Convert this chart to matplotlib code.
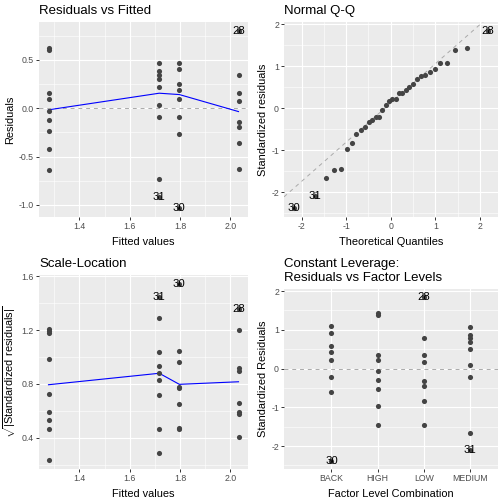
import matplotlib
matplotlib.use("Agg")
import matplotlib.pyplot as plt
from matplotlib.ticker import FixedLocator, FormatStrFormatter
import numpy as np
from statistics import NormalDist

plt.rcParams['font.family'] = ['Liberation Sans', 'DejaVu Sans']
plt.rcParams['mathtext.fontset'] = 'custom'
plt.rcParams['mathtext.rm'] = 'Liberation Sans'
plt.rcParams['axes.unicode_minus'] = False

# data (one-way lm, 4 factor levels)
levels = ["BACK", "HIGH", "LOW", "MEDIUM"]
fitted = [1.797, 1.277, 2.032, 1.717]
resid_back = [0.472, 0.403, 0.255, 0.186, 0.096, -0.093, -0.262, -1.034]
resid_high = [0.625, 0.605, 0.155, 0.096, -0.024, -0.124, -0.231, -0.424, -0.641]
resid_low = [0.800, 0.348, 0.152, 0.072, -0.145, -0.190, -0.365, -0.628]
resid_medium = [0.472, 0.380, 0.340, 0.300, 0.224, 0.036, -0.095, -0.731, -0.915]
# smoother values at each fitted level (BACK, HIGH, LOW, MEDIUM)
resid_smooth = [0.141, -0.017, -0.035, 0.155]
scale_smooth = [0.797, 0.794, 0.816, 0.879]
# row names of the three most extreme points, largest |std resid| first
top_labels = ["30", "31", "28"]

groups = [resid_back, resid_high, resid_low, resid_medium]
res = np.concatenate([np.array(g) for g in groups])
fit = np.concatenate([[f] * len(g) for f, g in zip(fitted, groups)])
lev = np.concatenate([[i + 1] * len(g) for i, g in enumerate(groups)])
hat = np.concatenate([[1.0 / len(g)] * len(g) for g in groups])
n = len(res)
sigma = np.sqrt(np.sum(res ** 2) / (n - len(groups)))
std = res / (sigma * np.sqrt(1 - hat))
top = np.argsort(-np.abs(std))[:3]

PT = '#444444'
W, H = 504, 504
fig = plt.figure(figsize=(5.04, 5.04), dpi=100)


def px_axes(x0, y0, x1, y1):
    return fig.add_axes([x0 / W, 1 - y1 / H, (x1 - x0) / W, (y1 - y0) / H])


def expand(v, m=0.05):
    lo, hi = np.min(v), np.max(v)
    d = (hi - lo) * m
    return lo - d, hi + d


def gg(ax, title, xlabel, ylabel, xmaj, xmin, ymaj, ymin, xfmt, yfmt):
    ax.set_facecolor('#EBEBEB')
    for s in ax.spines.values():
        s.set_visible(False)
    ax.set_axisbelow(True)
    if xmaj is not None:
        ax.xaxis.set_major_locator(FixedLocator(xmaj))
        ax.xaxis.set_minor_locator(FixedLocator(xmin))
        ax.xaxis.set_major_formatter(FormatStrFormatter(xfmt))
    ax.yaxis.set_major_locator(FixedLocator(ymaj))
    ax.yaxis.set_minor_locator(FixedLocator(ymin))
    ax.yaxis.set_major_formatter(FormatStrFormatter(yfmt))
    ax.grid(True, which='major', color='white', linewidth=0.8)
    ax.grid(True, which='minor', color='white', linewidth=0.4)
    ax.tick_params(which='major', length=2, width=0.7, color='#333333',
                   labelsize=6.3, labelcolor='#4D4D4D', pad=1.6)
    ax.tick_params(which='minor', length=0)
    ax.set_title(title, loc='left', fontsize=9.5, pad=5.8, color='black')
    ax.set_xlabel(xlabel, fontsize=7.9, labelpad=4.0)
    ax.set_ylabel(ylabel, fontsize=7.9, labelpad=2.5)


def label_top(ax, xs, ys):
    for k, i in enumerate(top):
        ax.text(xs[i], ys[i], top_labels[k], fontsize=8.2, color='black',
                ha='center', va='center')


order = np.argsort(fitted)
fx = np.array(fitted)[order]

# Residuals vs Fitted
ax1 = px_axes(39, 22, 248, 217)
ax1.axhline(0, color='#AAAAAA', lw=0.7, ls=(0, (4, 4)))
ax1.plot(fx, np.array(resid_smooth)[order], color='#0000FF', lw=0.8)
ax1.plot(fit, res, 'o', ms=3.7, color=PT, mec='none')
label_top(ax1, fit, res)
ax1.set_xlim(expand(fit))
ax1.set_ylim(expand(res))
gg(ax1, "Residuals vs Fitted", "Fitted values", "Residuals",
   [1.4, 1.6, 1.8, 2.0], [1.3, 1.5, 1.7, 1.9],
   [-1.0, -0.5, 0.0, 0.5], [-0.75, -0.25, 0.25, 0.75], '%.1f', '%.1f')

# Normal Q-Q
srt = np.argsort(std)
theo = np.empty(n)
theo[srt] = [NormalDist().inv_cdf((i + 0.5) / n) for i in range(n)]
q = np.quantile(std, [0.25, 0.75])
zq = np.array([NormalDist().inv_cdf(0.25), NormalDist().inv_cdf(0.75)])
slope = (q[1] - q[0]) / (zq[1] - zq[0])
icpt = q[0] - slope * zq[0]
ax2 = px_axes(284, 22, 497.5, 217)
xl = expand(theo)
ax2.plot(xl, icpt + slope * np.array(xl), color='#AAAAAA', lw=0.7, ls=(0, (4, 4)))
ax2.plot(theo, std, 'o', ms=3.7, color=PT, mec='none')
label_top(ax2, theo, std)
ax2.set_xlim(xl)
ax2.set_ylim(expand(std))
gg(ax2, "Normal Q-Q", "Theoretical Quantiles", "Standardized residuals",
   [-2, -1, 0, 1, 2], [-1.5, -0.5, 0.5, 1.5],
   [-2, -1, 0, 1, 2], [-2.5, -1.5, -0.5, 0.5, 1.5], '%d', '%d')

# Scale-Location
sq = np.sqrt(np.abs(std))
ax3 = px_axes(39, 275, 248, 469)
ax3.plot(fx, np.array(scale_smooth)[order], color='#0000FF', lw=0.8)
ax3.plot(fit, sq, 'o', ms=3.7, color=PT, mec='none')
label_top(ax3, fit, sq)
ax3.set_xlim(expand(fit))
ax3.set_ylim(expand(sq))
gg(ax3, "Scale-Location", "Fitted values",
   r'$\sqrt{|\mathrm{Standardized\ residuals}|}$',
   [1.4, 1.6, 1.8, 2.0], [1.3, 1.5, 1.7, 1.9],
   [0.4, 0.8, 1.2, 1.6], [0.2, 0.6, 1.0, 1.4], '%.1f', '%.1f')

# Constant leverage: residuals vs factor levels
ax4 = px_axes(284, 289, 497.5, 469)
ax4.axhline(0, color='#AAAAAA', lw=0.7, ls=(0, (4, 4)))
ax4.plot(lev, std, 'o', ms=3.7, color=PT, mec='none')
label_top(ax4, lev, std)
ax4.set_xlim(-0.03, len(levels) + 0.6)
ax4.set_ylim(expand(std))
gg(ax4, "Constant Leverage:\nResiduals vs Factor Levels",
   "Factor Level Combination", "Standardized Residuals",
   None, None, [-2, -1, 0, 1, 2], [-2.5, -1.5, -0.5, 0.5, 1.5], None, '%d')
ax4.set_xticks(range(1, len(levels) + 1))
ax4.set_xticklabels(levels)
ax4.grid(False, axis='x', which='minor')
ax4.title.set_linespacing(1.0)

fig.savefig("out.png", dpi=100)
